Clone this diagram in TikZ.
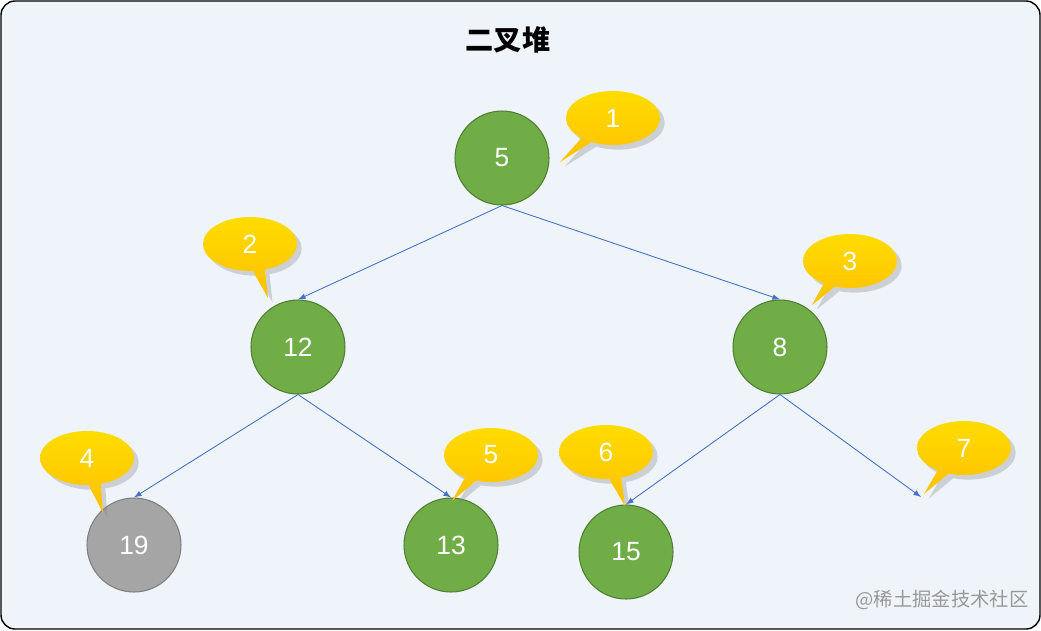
\documentclass[tikz,border=0pt]{standalone}
\usepackage{fontspec}
\setmainfont{Liberation Sans}
\newfontfamily\cjk{Noto Sans CJK SC}
\usetikzlibrary{arrows,shapes,shapes.callouts,shadows}
\definecolor{heapgreen}{HTML}{70AD47}
\definecolor{heapgreenline}{HTML}{507E32}
\definecolor{heapgray}{HTML}{A5A5A5}
\definecolor{heapgrayline}{HTML}{7F7F7F}
\definecolor{edgeblue}{HTML}{4472C4}
\definecolor{tagyellow}{HTML}{FFC000}
\definecolor{bgblue}{HTML}{EEF4FA}
\tikzset{
	heapnode/.style={circle, minimum size=1.88cm, inner sep=0pt, fill=heapgreen, draw=heapgreenline, line width=0.6pt, text=white, font=\fontsize{15}{15}\selectfont},
	lastnode/.style={heapnode, fill=heapgray, draw=heapgrayline},
	tag/.style={ellipse callout, minimum width=1.88cm, minimum height=1.08cm, inner sep=0pt, top color=tagyellow!55!yellow, bottom color=tagyellow, draw=none, text=white, drop shadow={opacity=0.3}, font=\fontsize{15}{15}\selectfont},
	link/.style={edgeblue, line width=0.5pt, -latex}
}
\begin{document}
\begin{tikzpicture}[x=0.02cm, y=-0.02cm]
	\useasboundingbox (0,0) rectangle (1041,630);
	\draw[fill=bgblue, rounded corners=8pt, line width=0.8pt] (1,1) rectangle (1040,629);
	\node (title) at (508,40) {\cjk\bfseries\fontsize{16}{16}\selectfont 二叉堆};
	
	\node[heapnode] (n5) at (502,158) {5};
	\node[heapnode] (n12) at (298,347) {12};
	\node[heapnode] (n8) at (780,347) {8};
	\node[lastnode] (n19) at (134,545) {19};
	\node[heapnode] (n13) at (451,545) {13};
	\node[heapnode] (n15) at (626,552) {15};
	\coordinate (empty) at (921,497);
	
	\draw[link] (n5.south) -- (n12.north);
	\draw[link] (n5.south) -- (n8.north);
	\draw[link] (n12.south) -- (n19.north);
	\draw[link] (n12.south) -- (n13.north);
	\draw[link] (n8.south) -- (n15.north);
	\draw[link] (n8.south) -- (empty);
	
	\node[tag, callout absolute pointer={(560,162)}] (t1) at (613,118) {1};
	\node[tag, callout absolute pointer={(268,298)}] (t2) at (250,244) {2};
	\node[tag, callout absolute pointer={(812,305)}] (t3) at (850,261) {3};
	\node[tag, callout absolute pointer={(103,513)}] (t4) at (87,458) {4};
	\node[tag, callout absolute pointer={(452,501)}] (t5) at (491,455) {5};
	\node[tag, callout absolute pointer={(625,506)}] (t6) at (606,452) {6};
	\node[tag, callout absolute pointer={(924,494)}] (t7) at (964,448) {7};
	
	\node[text=gray!80, font=\cjk\fontsize{11}{11}\selectfont] (mark) at (942,600) {@稀土掘金技术社区};
\end{tikzpicture}
\end{document}
